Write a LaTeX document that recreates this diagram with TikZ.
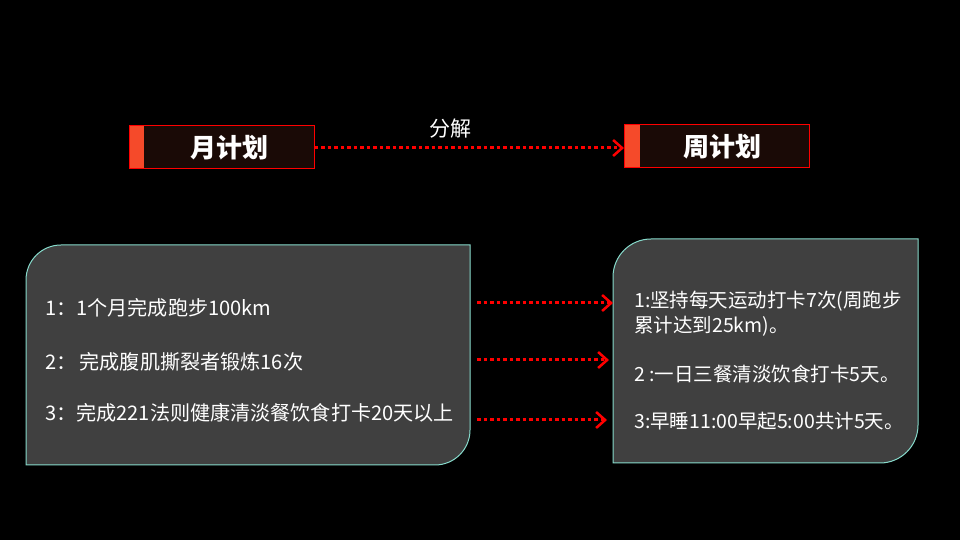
\documentclass[tikz,border=0pt]{standalone}
\usepackage{fontspec}
\setmainfont{Noto Sans CJK SC}
\usetikzlibrary{arrows.meta}
\definecolor{boxfill}{HTML}{404040}
\definecolor{boxline}{HTML}{86DACB}
\definecolor{titlefill}{HTML}{1A0A06}
\definecolor{strip}{HTML}{F54A2A}
\tikzset{
  titlebox/.style={draw=red, line width=1pt, fill=titlefill, minimum width=185pt, minimum height=43pt, inner sep=0pt},
  titletext/.style={text=white, font=\fontsize{26}{30}\selectfont\bfseries},
  redarrow/.style={draw=red, line width=3pt, dash pattern=on 3.5pt off 3pt, -{Straight Barb[length=9pt,width=16pt,line width=2.5pt]}},
  panel/.style={fill=boxfill, draw=boxline, line width=1pt},
  lefttext/.style={anchor=west, text=white, inner sep=0pt, font=\fontsize{20.1}{24}\selectfont},
  righttext/.style={anchor=west, text=white, inner sep=0pt, font=\fontsize{19.5}{24}\selectfont},
}
\begin{document}
\begin{tikzpicture}[x=1pt,y=1pt]
\useasboundingbox[fill=black] (0,0) rectangle (960,540);
% title boxes
\node[titlebox] (month) at (221.5,392.5) {};
\fill[strip] (129.5,371.5) rectangle (144,413.5);
\node[titletext] (monthtxt) at (229,392.5) {月计划};
\node[titlebox] (week) at (717,393.5) {};
\fill[strip] (624.5,372.5) rectangle (640,414.5);
\node[titletext] (weektxt) at (722,393.5) {周计划};
\draw[redarrow] (month.east |- 0,392) -- (week.west |- 0,392) node[pos=0.44, above=5pt, text=white, font=\fontsize{21}{24}\selectfont] (split) {分解};
% panels
\draw[panel] (26,75) -- (26,260) arc[start angle=180,end angle=90,radius=35] -- (470,295) -- (470,110) arc[start angle=0,end angle=-90,radius=35] -- cycle;
\draw[panel] (613,77) -- (613,263) arc[start angle=180,end angle=90,radius=38] -- (918,301) -- (918,115) arc[start angle=0,end angle=-90,radius=38] -- cycle;
% left text
\node[lefttext] (l1) at (45,232) {1：1个月完成跑步100km};
\node[lefttext] (l2) at (45,178) {2：\,完成腹肌撕裂者锻炼16次};
\node[lefttext] (l3) at (45,127) {3：完成221法则健康清淡餐饮食打卡20天以上};
% right text
\node[righttext] (r1) at (634,239) {1:坚持每天运动打卡7次(周跑步};
\node[righttext] (r1b) at (634,214) {累计达到25km)。};
\node[righttext] (r2) at (634,166) {2 :一日三餐清淡饮食打卡5天。};
\node[righttext] (r3) at (634,119) {3:早睡11:00早起5:00共计5天。};
% middle arrows
\coordinate (a1s) at (477,237); \coordinate (a1e) at (613,237);
\coordinate (a2s) at (477,180); \coordinate (a2e) at (609,180);
\coordinate (a3s) at (477,120); \coordinate (a3e) at (607,120);
\draw[redarrow] (a1s) -- (a1e);
\draw[redarrow] (a2s) -- (a2e);
\draw[redarrow] (a3s) -- (a3e);
\end{tikzpicture}
\end{document}
